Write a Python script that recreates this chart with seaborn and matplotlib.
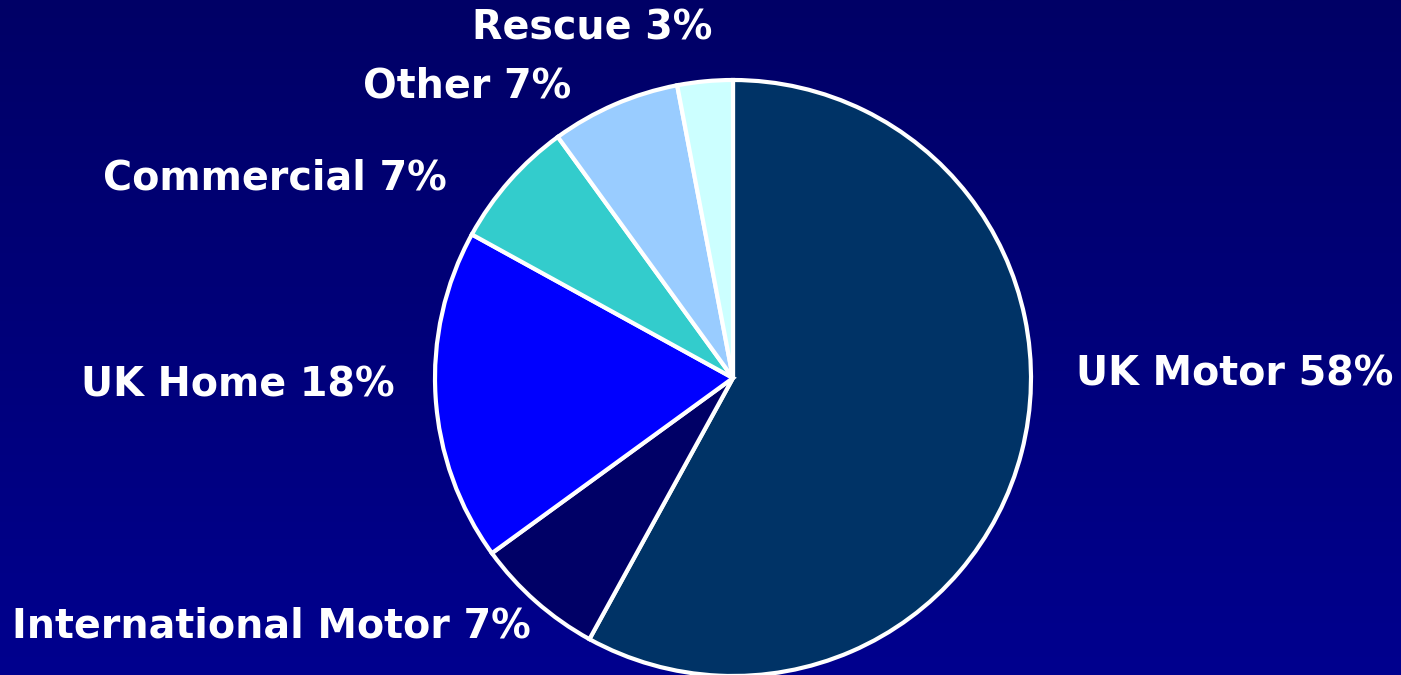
import numpy as np
import matplotlib
matplotlib.use("Agg")
import matplotlib.pyplot as plt
from matplotlib.colors import LinearSegmentedColormap
import seaborn as sns

# Portfolio mix by business line (share of total, %)
segments = ["UK Motor", "International Motor", "UK Home", "Commercial", "Other", "Rescue"]
shares = [58, 7, 18, 7, 7, 3]
slice_colors = ["#003366", "#000066", "#0000FF", "#33CCCC", "#99CCFF", "#CCFFFF"]

# Label placement in figure fractions (centre x, centre y)
label_xy = [
    (1235 / 1401, 1 - 375 / 675),
    (271 / 1401, 1 - 627 / 675),
    (238 / 1401, 1 - 385 / 675),
    (275 / 1401, 1 - 178 / 675),
    (467 / 1401, 1 - 87 / 675),
    (592 / 1401, 1 - 28 / 675),
]

sns.set_theme(style="white")
plt.rcParams["font.family"] = ["DejaVu Sans"]

W, H, DPI = 1401, 675, 100
fig = plt.figure(figsize=(W / DPI, H / DPI), dpi=DPI)

# Vertical navy gradient behind everything
bg = fig.add_axes([0, 0, 1, 1], zorder=0)
grad = np.linspace(0, 1, 256).reshape(-1, 1)
cmap = LinearSegmentedColormap.from_list("navy", ["#000066", "#00008E"])
bg.imshow(grad, aspect="auto", cmap=cmap, extent=[0, 1, 0, 1], origin="upper")
bg.set_axis_off()

# Pie centred at (733, 378) px with a 298 px radius
cx, cy, r = 733, 378, 298
ax = fig.add_axes([(cx - r) / W, (H - cy - r) / H, 2 * r / W, 2 * r / H], zorder=1)
ax.pie(
    shares,
    colors=sns.color_palette(slice_colors),
    startangle=90,
    counterclock=False,
    wedgeprops=dict(edgecolor="white", linewidth=3),
)
ax.set_xlim(-1, 1)
ax.set_ylim(-1, 1)
ax.set_aspect("equal")
ax.set_axis_off()

for name, val, (x, y) in zip(segments, shares, label_xy):
    fig.text(x, y, f"{name} {val}%", color="white", fontsize=28.5, fontweight="bold",
             ha="center", va="center", zorder=2)

fig.savefig("out.png", dpi=DPI)
